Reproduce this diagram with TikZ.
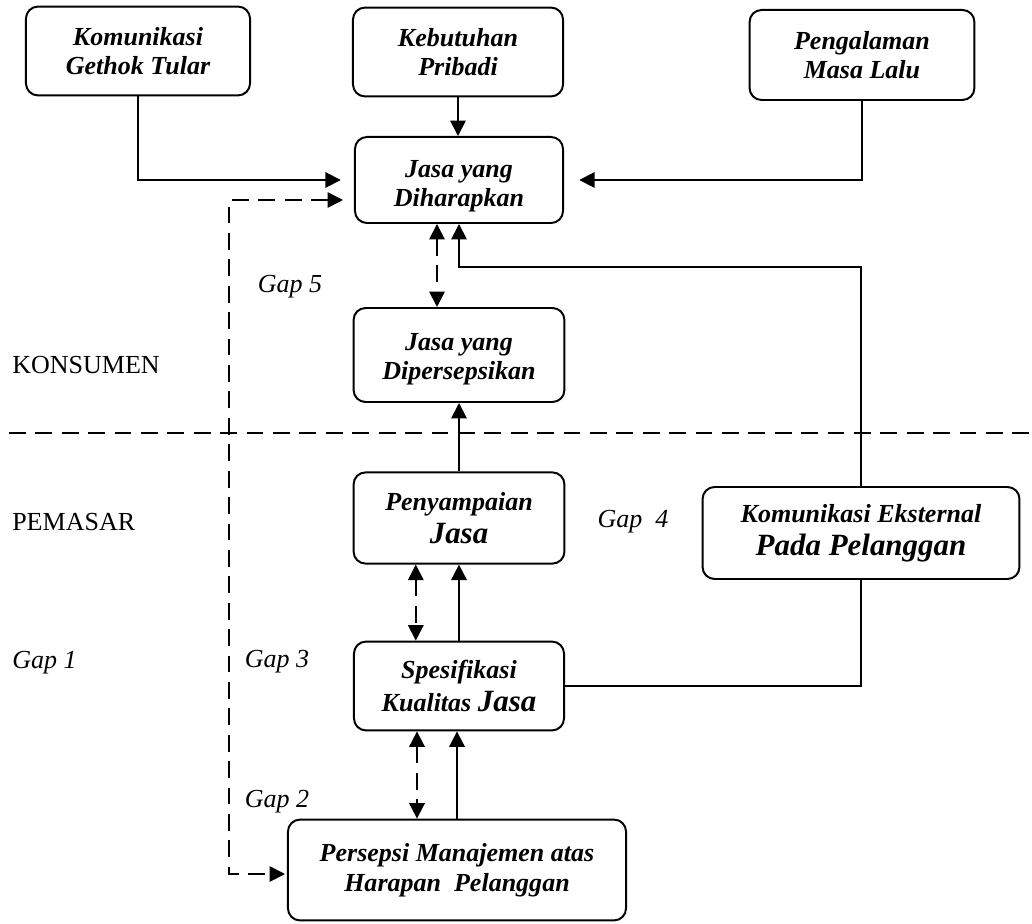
\documentclass[tikz,border=0pt]{standalone}
\usepackage{fontspec}
\setmainfont{Liberation Serif}
\usetikzlibrary{arrows.meta,positioning}

\newcommand{\besar}[1]{{\fontsize{22pt}{25pt}\selectfont #1}}

\begin{document}
\begin{tikzpicture}[x=0.025cm, y=-0.025cm,
	kotak/.style={draw, line width=1.4pt, rounded corners=0.3cm, align=center, inner sep=0pt, fill=white,
		font=\fontsize{18.5pt}{20.6pt}\selectfont\bfseries\itshape},
	panah/.style={line width=1.3pt, -{Triangle[length=11pt,width=11pt]}},
	duapanah/.style={line width=1.3pt, {Triangle[length=11pt,width=11pt]}-{Triangle[length=11pt,width=11pt]}},
	putus/.style={dash pattern=on 0.42cm off 0.24cm},
	ket/.style={inner sep=0pt, font=\fontsize{18.5pt}{20.6pt}\selectfont\itshape},
	teks/.style={inner sep=0pt, font=\fontsize{18.5pt}{20.6pt}\selectfont}]
	\useasboundingbox (0,0) rectangle (1032,924);

	% Kotak sisi konsumen
	\node[kotak, minimum width=5.6cm, minimum height=2.22cm] (gethok) at (138,51) {Komunikasi\\Gethok Tular};
	\node[kotak, minimum width=5.25cm, minimum height=2.22cm] (pribadi) at (458,52) {Kebutuhan\\Pribadi};
	\node[kotak, minimum width=5.62cm, minimum height=2.25cm] (lalu) at (862,55) {Pengalaman\\Masa Lalu};
	\node[kotak, minimum width=5.2cm, minimum height=2.15cm] (harap) at (459,180) {\rule{0pt}{21pt}Jasa yang\\Diharapkan};
	\node[kotak, minimum width=5.27cm, minimum height=2.35cm] (dipersepsi) at (459,355) {\rule{0pt}{18pt}Jasa yang\\Dipersepsikan};

	% Kotak sisi pemasar
	\node[kotak, minimum width=5.27cm, minimum height=2.28cm] (sampai) at (459,518) {Penyampaian\\[3pt]\besar{Jasa}};
	\node[kotak, minimum width=5.25cm, minimum height=2.22cm] (spek) at (459,686) {Spesifikasi\\[3pt]Kualitas \besar{Jasa}};
	\node[kotak, minimum width=8.45cm, minimum height=2.52cm] (manajemen) at (457,870) {Persepsi Manajemen atas\\[1pt]Harapan\ \ Pelanggan};
	\node[kotak, minimum width=7.92cm, minimum height=2.3cm] (eksternal) at (861,533) {Komunikasi Eksternal\\[3pt]\besar{Pada Pelanggan}};

	% Garis batas konsumen dan pemasar
	\coordinate (bataskiri) at (9,433);
	\coordinate (bataskanan) at (1032,433);
	\draw[line width=1.3pt, putus] (bataskiri) -- (bataskanan);
	\node[teks, anchor=west] (konsumen) at (12,365) {KONSUMEN};
	\node[teks, anchor=west] (pemasar) at (12,522) {PEMASAR};

	% Masukan ke jasa yang diharapkan
	\draw[panah, shorten >=0.33cm] (gethok.south) |- (harap.west);
	\draw[panah] (pribadi.south) -- (pribadi.south |- harap.north);
	\draw[panah, shorten >=0.38cm] (lalu.south) |- (harap.east);

	% Gap 1
	\coordinate (ujungatas) at (343,200);
	\coordinate (sudut) at (229,874);
	\coordinate (ujungbawah) at (285,874);
	\draw[duapanah, putus] (ujungatas) -| (sudut) -- (ujungbawah);
	\node[ket, anchor=west] (gap1) at (12,663) {Gap 1};

	% Gap 5
	\draw[duapanah, putus] ([xshift=-0.55cm]harap.south) -- ([xshift=-0.55cm]dipersepsi.north);
	\node[ket] (gap5) at (290,287) {Gap 5};
	\draw[panah] (sampai.north) -- (dipersepsi.south);

	% Gap 3 dan Gap 2
	\draw[duapanah, putus] ([xshift=-1.08cm]sampai.south) -- ([xshift=-1.08cm]spek.north);
	\draw[panah] (spek.north) -- (sampai.south);
	\node[ket] (gap3) at (277,662) {Gap 3};
	\draw[duapanah, putus] ([xshift=-1.05cm]spek.south) -- ([xshift=-1.05cm]spek.south |- manajemen.north);
	\draw[panah] (manajemen.north) -- (manajemen.north |- spek.south);
	\node[ket] (gap2) at (277,802) {Gap 2};

	% Gap 4, lewat komunikasi eksternal
	\coordinate (belok) at (862,267);
	\draw[line width=1.3pt] (spek.east) -| (eksternal.south);
	\draw[panah] (eksternal.north) |- (harap.south |- belok) -- (harap.south);
	\node[ket] (gap4) at (633,522) {Gap\ \ 4};
\end{tikzpicture}
\end{document}
